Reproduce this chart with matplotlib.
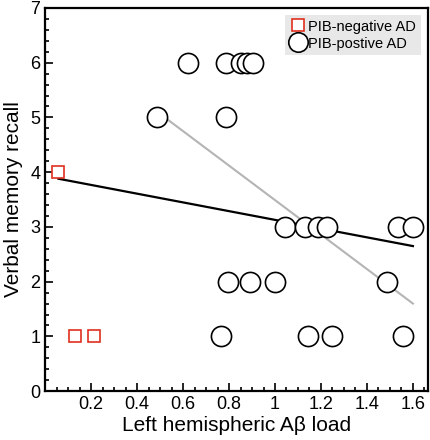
import numpy as np
import matplotlib.pyplot as plt
from matplotlib.ticker import MultipleLocator

plt.rcParams['font.family'] = ['Liberation Sans', 'DejaVu Sans']

# PIB-negative AD
neg_x = [0.058, 0.132, 0.214]
neg_y = [4, 1, 1]

# PIB-positive AD
pos_x = [0.62, 0.787, 0.851, 0.877, 0.906,
         0.486, 0.786,
         1.043, 1.13, 1.188, 1.225, 1.536, 1.601,
         0.794, 0.891, 1.0, 1.488,
         0.765, 1.145, 1.249, 1.555]
pos_y = [6, 6, 6, 6, 6,
         5, 5,
         3, 3, 3, 3, 3, 3,
         2, 2, 2, 2,
         1, 1, 1, 1]

# fitted lines (end points)
fit_all_x = [0.058, 1.6]
fit_all_y = [3.88, 2.65]
fit_pos_x = [0.53, 1.6]
fit_pos_y = [4.97, 1.6]

fig = plt.figure(figsize=(4.3, 4.4), dpi=100)
ax = fig.add_axes([0.105, 0.111, 0.89, 0.871])

ax.plot(fit_pos_x, fit_pos_y, color='#b4b4b4', lw=1.5, zorder=2)
ax.plot(fit_all_x, fit_all_y, color='black', lw=1.6, zorder=2)

ax.plot(neg_x, neg_y, 's', ms=8.5, mfc='white', mec='#e0301e', mew=1.2,
        ls='none', label='PIB-negative AD', zorder=3)
ax.plot(pos_x, pos_y, 'o', ms=14.5, mfc='white', mec='black', mew=1.2,
        ls='none', label='PIB-postive AD', zorder=3)

ax.set_xlim(0, 1.665)
ax.set_ylim(0, 7)
ax.set_xticks([0.2, 0.4, 0.6, 0.8, 1.0, 1.2, 1.4, 1.6])
ax.set_xticklabels(['0.2', '0.4', '0.6', '0.8', '1', '1.2', '1.4', '1.6'])
ax.set_yticks(range(0, 8))
ax.xaxis.set_minor_locator(MultipleLocator(0.05))
ax.yaxis.set_minor_locator(MultipleLocator(0.2))
ax.tick_params(which='both', direction='in', labelsize=13, width=1.2)
ax.tick_params(which='major', length=6)
ax.tick_params(which='minor', length=3)
for s in ax.spines.values():
    s.set_linewidth(1.6)

ax.set_xlabel('Left hemispheric A\u03b2 load', fontsize=15, labelpad=2)
ax.set_ylabel('Verbal memory recall', fontsize=15, labelpad=5)

leg = ax.legend(loc='upper right', fontsize=10.5, frameon=True, fancybox=False,
                handletextpad=0.1, handlelength=1.2, borderaxespad=0.5,
                borderpad=0.3, labelspacing=0.2, markerscale=0.9)
leg.get_frame().set_facecolor('#e8e8e8')
leg.get_frame().set_edgecolor('none')
leg.get_frame().set_alpha(1)
leg.legend_handles[0].set_markersize(9)
leg.legend_handles[1].set_markersize(14)

fig.savefig('out.png', dpi=100)
